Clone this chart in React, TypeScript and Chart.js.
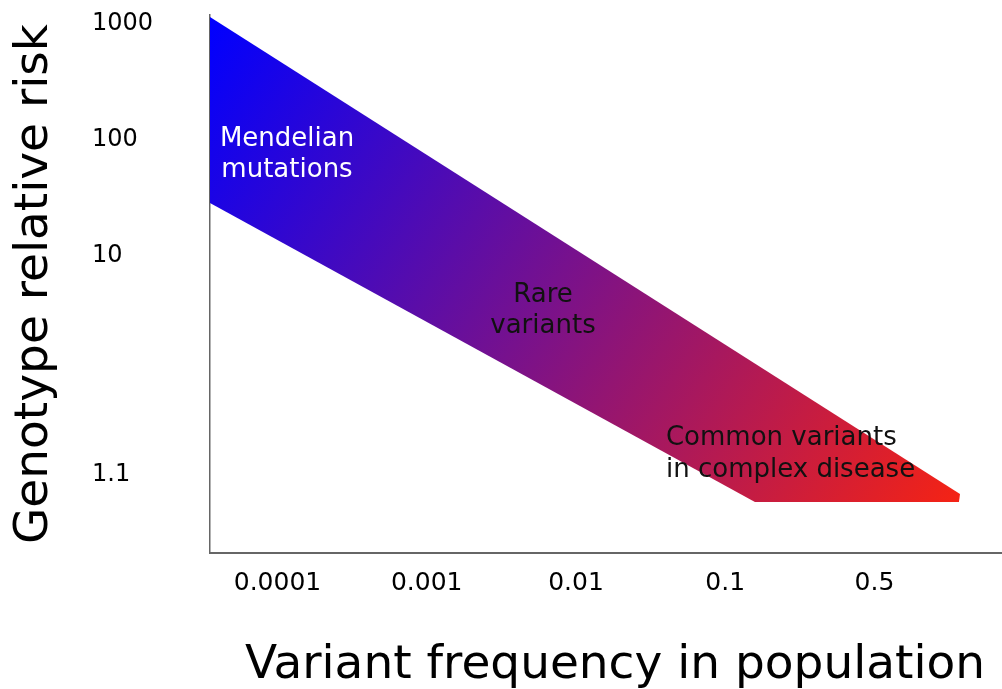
import React, { useEffect, useRef } from "react";
import { Chart, registerables } from "chart.js";

Chart.register(...registerables);

// Axis positions (axis units) and their tick labels
const xTickLabels = ["0.0001", "0.001", "0.01", "0.1", "0.5"];
const xTickPositions = [0, 1, 2, 3, 4];
const yTickLabels = ["1000", "100", "10", "1.1"];
const yTickPositions = [3, 2, 1, -0.888];

// Axis ranges
const xMin = -0.452;
const xMax = 4.975;
const yMin = -1.578;
const yMax = 3.06;

// Band polygon (closed), in axis units
const bandX = [-0.452, 4.573, 4.566, 3.199, -0.452, -0.452];
const bandY = [3.043, -1.069, -1.138, -1.138, 1.44, 3.043];

// Region labels
const annotationLines = [
  ["Mendelian", "mutations"],
  ["Rare", "variants"],
  ["Common variants", "in complex disease"],
];
const annotationX = [0.064, 1.779, 2.603];
const annotationY = [1.934, 0.589, -0.647];

const FONT = "'DejaVu Sans', sans-serif";
const annotationColors = ["#ffffff", "#111111", "#111111"];
const annotationAlign: CanvasTextAlign[] = ["center", "center", "left"];

const annotationPlugin = {
  id: "regionLabels",
  afterDatasetsDraw(chart: any) {
    const { ctx, scales } = chart;
    ctx.save();
    ctx.font = `26px ${FONT}`;
    ctx.textBaseline = "alphabetic";
    annotationLines.forEach((lines, i) => {
      const px = scales.x.getPixelForValue(annotationX[i]);
      const py = scales.y.getPixelForValue(annotationY[i]);
      ctx.fillStyle = annotationColors[i];
      ctx.textAlign = annotationAlign[i];
      lines.forEach((t, j) => ctx.fillText(t, px, py + j * 31.5));
    });
    ctx.restore();
  },
};

export default function App() {
  const canvasRef = useRef<HTMLCanvasElement | null>(null);

  useEffect(() => {
    const canvas = canvasRef.current;
    if (!canvas) return;
    const chart = new Chart(canvas, {
      type: "line",
      data: {
        datasets: [
          {
            xAxisID: "x",
            yAxisID: "y",
            data: bandX.map((x, i) => ({ x, y: bandY[i] })),
            borderWidth: 0,
            pointRadius: 0,
            tension: 0,
            fill: "shape",
            backgroundColor: (c: any) => {
              const ch = c.chart;
              if (!ch.chartArea || !ch.scales.x || !ch.scales.y) return "#0000ff";
              const xs = ch.scales.x;
              const ys = ch.scales.y;
              const g = ch.ctx.createLinearGradient(
                xs.getPixelForValue(bandX[0]),
                ys.getPixelForValue(bandY[0]),
                xs.getPixelForValue(bandX[1]),
                ys.getPixelForValue(bandY[2])
              );
              g.addColorStop(0, "#0000ff");
              g.addColorStop(1, "#f52314");
              return g;
            },
          } as any,
        ],
      },
      options: {
        animation: false,
        responsive: false,
        layout: { padding: { top: 15, right: 0, bottom: 0, left: 0 } },
        plugins: {
          legend: { display: false },
          tooltip: { enabled: false },
        },
        scales: {
          x: {
            type: "linear",
            min: xMin,
            max: xMax,
            afterBuildTicks: (s: any) => {
              s.ticks = xTickPositions.map((v) => ({ value: v }));
            },
            ticks: {
              callback: (_v: any, i: number) => xTickLabels[i],
              font: { family: FONT, size: 25 },
              color: "#000",
              padding: 15,
              maxRotation: 0,
              autoSkip: false,
            },
            grid: { display: false, drawTicks: false },
            border: { display: true, color: "#666", width: 2 },
            title: {
              display: true,
              text: "Variant frequency in population",
              font: { family: FONT, size: 47, lineHeight: 1.0 },
              color: "#000",
              padding: { top: 0, bottom: 0 },
            },
            afterFit: (s: any) => {
              s.height = 136;
            },
          },
          yt: {
            type: "linear",
            position: "left",
            display: true,
            weight: 10,
            ticks: { display: false },
            grid: { display: false, drawTicks: false },
            border: { display: false },
            title: {
              display: true,
              text: "Genotype relative risk",
              font: { family: FONT, size: 47, lineHeight: 1.0 },
              color: "#000",
              padding: { top: 11, bottom: 0 },
            },
            afterFit: (s: any) => {
              s.width = 92;
            },
          },
          y: {
            type: "linear",
            position: "left",
            weight: 0,
            min: yMin,
            max: yMax,
            afterBuildTicks: (s: any) => {
              s.ticks = yTickPositions.map((v) => ({ value: v }));
            },
            ticks: {
              callback: (_v: any, i: number) => yTickLabels[i],
              font: { family: FONT, size: 24 },
              color: "#000",
              padding: 0,
              labelOffset: 2,
              crossAlign: "far",
              autoSkip: false,
            },
            grid: { display: false, drawTicks: false },
            border: { display: true, color: "#666", width: 1.5 },
            afterFit: (s: any) => {
              s.width = 118;
            },
          },
        } as any,
      },
      plugins: [annotationPlugin],
    });
    return () => chart.destroy();
  }, []);

  return (
    <div
      style={{
        position: "fixed",
        left: 0,
        top: 0,
        width: 1020,
        height: 689,
        background: "#ffffff",
      }}
    >
      <canvas ref={canvasRef} width={1020} height={689} />
    </div>
  );
}
